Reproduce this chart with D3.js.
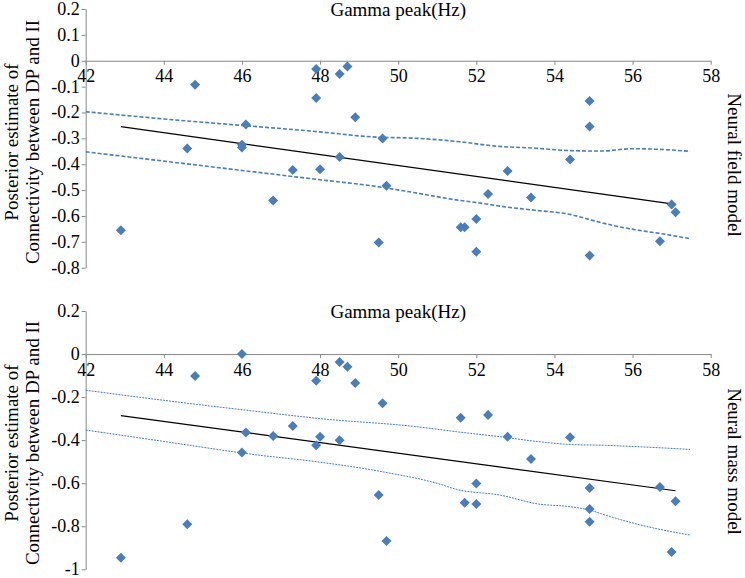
<!DOCTYPE html>
<html><head><meta charset="utf-8">
<script src="https://cdn.jsdelivr.net/npm/d3@7"></script>
<style>
body{margin:0;background:#fff}
</style>
</head><body>
<svg id="chart" width="745" height="578"></svg>
<script>
// ---------- data ----------
const gammaPeak = [42.9,44.6,44.8,46.0,46.0,46.1,46.8,47.3,47.9,47.9,48.0,48.5,48.5,48.7,48.9,49.5,49.6,49.7,51.6,51.7,52.0,52.0,52.3,52.8,53.4,54.4,54.9,54.9,54.9,56.7,57.0,57.1];
const fieldModel = [-0.655,-0.339,-0.093,-0.325,-0.335,-0.246,-0.540,-0.422,-0.032,-0.144,-0.419,-0.051,-0.372,-0.022,-0.218,-0.703,-0.301,-0.483,-0.644,-0.644,-0.612,-0.738,-0.515,-0.426,-0.529,-0.382,-0.156,-0.254,-0.753,-0.698,-0.556,-0.586];
const massModel = [-0.946,-0.791,-0.102,0.0,-0.457,-0.365,-0.381,-0.334,-0.124,-0.424,-0.384,-0.037,-0.401,-0.059,-0.135,-0.655,-0.229,-0.869,-0.296,-0.691,-0.601,-0.697,-0.283,-0.384,-0.488,-0.386,-0.622,-0.720,-0.779,-0.618,-0.920,-0.684];

const fitX = [42.9, 57.1];
const fieldFit = [-0.255, -0.555];
const massFit = [-0.286, -0.635];

const fieldUpperX = [42,44,46,48,49.3,50.5,51.5,52.5,53.5,54.5,55.2,56.0,56.6,57.47];
const fieldUpperY = [-0.197,-0.225,-0.250,-0.275,-0.294,-0.300,-0.312,-0.330,-0.338,-0.348,-0.349,-0.340,-0.342,-0.350];
const fieldLowerX = [42,44,46,48,49.3,50.5,51.4,52.0,52.7,53.5,54.4,55.0,55.6,56.1,56.8,57.47];
const fieldLowerY = [-0.352,-0.388,-0.424,-0.460,-0.483,-0.512,-0.536,-0.548,-0.564,-0.578,-0.594,-0.618,-0.640,-0.654,-0.670,-0.688];

const massUpperX = [42,44,46.3,48,50.5,51.5,52.6,53.6,54.4,55.3,56.2,57.47];
const massUpperY = [-0.168,-0.215,-0.265,-0.300,-0.338,-0.361,-0.384,-0.407,-0.420,-0.424,-0.431,-0.443];
const massLowerX = [42,44,46.4,47.9,49.6,51.0,51.5,52.6,53.6,54.4,54.9,55.3,56.2,57.47];
const massLowerY = [-0.353,-0.406,-0.469,-0.500,-0.547,-0.601,-0.629,-0.655,-0.697,-0.709,-0.725,-0.748,-0.794,-0.841];

const xTicks = [42,44,46,48,50,52,54,56,58];
const fieldYTicks = [0.2,0.1,0,-0.1,-0.2,-0.3,-0.4,-0.5,-0.6,-0.7,-0.8];
const fieldYLabels = ["0.2","0.1","0","-0.1","-0.2","-0.3","-0.4","-0.5","-0.6","-0.7","-0.8"];
const massYTicks = [0.2,0,-0.2,-0.4,-0.6,-0.8,-1];
const massYLabels = ["0.2","0","-0.2","-0.4","-0.6","-0.8","-1"];

const xTitle = "Gamma peak(Hz)";
const yTitle1 = "Posterior estimate of";
const yTitle2 = "Connectivity between DP and II";
const panelNames = ["Neural field model", "Neural mass model"];

// ---------- drawing ----------
const svg = d3.select("#chart");
const FONT = "'Liberation Serif', 'Times New Roman', Tinos, 'DejaVu Serif', serif";
const axisColor = "#888888";
const markColor = "#4a7ebb";
const FS = 18;     // tick labels
const TFS = 19;    // titles

function styleText(sel, size) {
  sel.style("font-family", FONT).style("font-size", (size || FS) + "px").attr("fill", "#000");
}

function panel(cfg) {
  const x = d3.scaleLinear().domain([42, 58]).range([85.7, 710.7]);
  const y = d3.scaleLinear().domain(cfg.yDomain).range([cfg.top, cfg.bottom]);
  const g = svg.append("g");

  // y axis
  const ya = g.append("g").attr("transform", "translate(85.7,0)")
    .call(d3.axisLeft(y).tickValues(cfg.yTicks).tickSize(4).tickSizeOuter(0).tickPadding(2)
      .tickFormat((d, i) => cfg.yLabels[i]));
  ya.attr("font-family", null).attr("font-size", null);
  ya.select(".domain").attr("stroke", axisColor);
  ya.selectAll(".tick line").attr("stroke", axisColor);
  ya.selectAll(".tick text").call(styleText).attr("dy", "0.3em");

  // x axis at y=0
  const xa = g.append("g").attr("transform", `translate(0,${y(0)})`)
    .call(d3.axisBottom(x).tickValues(xTicks).tickSize(4).tickSizeOuter(0).tickFormat(d3.format("d")));
  xa.attr("font-family", null).attr("font-size", null);
  xa.select(".domain").attr("stroke", axisColor);
  xa.selectAll(".tick line").attr("stroke", axisColor);
  xa.selectAll(".tick text").call(styleText)
    .attr("y", cfg.xLabelOff).attr("dy", "0.35em");

  // titles
  g.append("text").attr("x", x(50)).attr("y", cfg.titleY).attr("text-anchor", "middle")
    .call(styleText, TFS).text(xTitle);
  g.append("text").attr("transform", `translate(18,${cfg.yTitleC}) rotate(-90)`).attr("text-anchor", "middle")
    .call(styleText, TFS).text(yTitle1);
  g.append("text").attr("transform", `translate(39,${cfg.yTitleC}) rotate(-90)`).attr("text-anchor", "middle")
    .call(styleText, TFS).text(yTitle2);
  g.append("text").attr("transform", `translate(728,${cfg.nameC}) rotate(90)`).attr("text-anchor", "middle")
    .call(styleText, TFS).text(cfg.name);

  // confidence bands
  const line = d3.line().x(d => x(d[0])).y(d => y(d[1])).curve(d3.curveMonotoneX);
  [[cfg.upX, cfg.upY], [cfg.loX, cfg.loY]].forEach(([xs, ys]) => {
    g.append("path").datum(xs.map((v, i) => [v, ys[i]]))
      .attr("d", line).attr("fill", "none").attr("stroke", markColor)
      .attr("stroke-width", cfg.bandW).attr("stroke-dasharray", cfg.dash);
  });

  // regression line
  g.append("path").datum(fitX.map((v, i) => [v, cfg.fit[i]]))
    .attr("d", d3.line().x(d => x(d[0])).y(d => y(d[1])))
    .attr("fill", "none").attr("stroke", "#000").attr("stroke-width", 1.2);

  // points (diamonds)
  const sym = d3.symbol().type(d3.symbolSquare).size(50);
  g.append("g").selectAll("path").data(gammaPeak.map((v, i) => [v, cfg.vals[i]])).join("path")
    .attr("d", sym).attr("fill", markColor)
    .attr("transform", d => `translate(${x(d[0])},${y(d[1])}) rotate(45)`);
}

panel({
  yDomain: [0.2, -0.8], top: 9, bottom: 267.7, yTicks: fieldYTicks, yLabels: fieldYLabels,
  xLabelOff: 15, titleY: 16, yTitleC: 142, nameC: 165, name: panelNames[0],
  upX: fieldUpperX, upY: fieldUpperY, loX: fieldLowerX, loY: fieldLowerY,
  bandW: 1.6, dash: "4,2", fit: fieldFit, vals: fieldModel
});
panel({
  yDomain: [0.2, -1], top: 311, bottom: 569.3, yTicks: massYTicks, yLabels: massYLabels,
  xLabelOff: 16, titleY: 318, yTitleC: 443, nameC: 461.5, name: panelNames[1],
  upX: massUpperX, upY: massUpperY, loX: massLowerX, loY: massLowerY,
  bandW: 1, dash: "2,1", fit: massFit, vals: massModel
});
</script>
</body></html>
